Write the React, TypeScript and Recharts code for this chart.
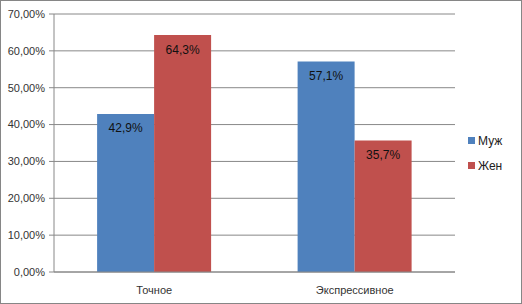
import React from 'react';
import { BarChart, Bar, XAxis, YAxis, CartesianGrid, LabelList, Legend } from 'recharts';

const categories = ['Точное', 'Экспрессивное'];
const male = [0.429, 0.571];
const female = [0.643, 0.357];
const yTicks = [0, 0.1, 0.2, 0.3, 0.4, 0.5, 0.6, 0.7];

const data = categories.map((name, i) => ({ name, male: male[i], female: female[i] }));

const fmtAxis = (v: number) => (v * 100).toFixed(2).replace('.', ',') + '%';
const fmtLabel = (v: any) => (Number(v) * 100).toFixed(1).replace('.', ',') + '%';

const font = '"Liberation Sans", Arial, sans-serif';

const LegendBox = () => (
  <div style={{ fontFamily: font, fontSize: 12, color: '#222' }}>
    {[
      { label: 'Муж', color: '#4F81BD' },
      { label: 'Жен', color: '#C0504D' },
    ].map((it) => (
      <div key={it.label} style={{ display: 'flex', alignItems: 'center', height: 25 }}>
        <span style={{ width: 7, height: 7, background: it.color, display: 'inline-block', marginRight: 3 }} />
        {it.label}
      </div>
    ))}
  </div>
);

export default function App() {
  return (
    <div style={{ position: 'absolute', left: 0, top: 0, width: 522, height: 304, boxSizing: 'border-box', border: '1px solid #868686', background: '#fff' }}>
      <div style={{ position: 'absolute', left: -1, top: -1 }}>
        <BarChart
          width={522}
          height={304}
          data={data}
          margin={{ top: 14, right: 17, bottom: 2, left: 0 }}
          barCategoryGap="21.5%"
          barGap={0}
        >
          <CartesianGrid vertical={false} stroke="#888" />
          <XAxis
            dataKey="name"
            height={30}
            axisLine={{ stroke: '#888' }}
            tickLine={false}
            tick={{ fontSize: 11, fill: '#333', fontFamily: font }}
            tickMargin={8}
          />
          <YAxis
            width={54}
            domain={[0, 0.7]}
            ticks={yTicks}
            tickFormatter={fmtAxis}
            axisLine={{ stroke: '#888' }}
            tickLine={{ stroke: '#888' }}
            tickSize={5}
            tick={{ fontSize: 11, fill: '#333', fontFamily: font }}
            tickMargin={4}
          />
          <Legend
            layout="vertical"
            align="right"
            verticalAlign="middle"
            width={50}
            content={<LegendBox />}
            wrapperStyle={{ left: 468, top: 128, width: 50 }}
          />
          <Bar dataKey="male" name="Муж" fill="#4F81BD" isAnimationActive={false}>
            <LabelList dataKey="male" position="insideTop" offset={10} formatter={fmtLabel} style={{ fontSize: 12, fill: '#111', fontFamily: font }} />
          </Bar>
          <Bar dataKey="female" name="Жен" fill="#C0504D" isAnimationActive={false}>
            <LabelList dataKey="female" position="insideTop" offset={10} formatter={fmtLabel} style={{ fontSize: 12, fill: '#111', fontFamily: font }} />
          </Bar>
        </BarChart>
      </div>
    </div>
  );
}
